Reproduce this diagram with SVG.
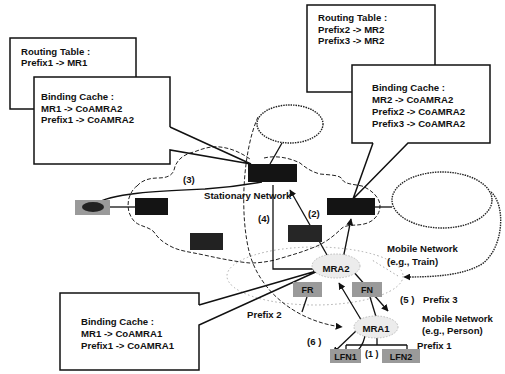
<svg xmlns="http://www.w3.org/2000/svg" width="505" height="374" viewBox="0 0 505 374">
<defs>
<marker id="ah" viewBox="0 0 10 10" refX="9" refY="5" markerWidth="7" markerHeight="7" markerUnits="userSpaceOnUse" orient="auto">
<path d="M0,0 L10,5 L0,10 Z" fill="#111"/>
</marker>
<style>
text{font-family:"Liberation Sans",Arial,sans-serif;font-size:9.6px;font-weight:bold;fill:#111}
.box{fill:#fff;stroke:none}
.edge{fill:none;stroke:#111;stroke-width:1.5}
.ln{fill:none;stroke:#111;stroke-width:1.3}
.dash{fill:none;stroke:#222;stroke-width:1;stroke-dasharray:4 2}
.dot{fill:none;stroke:#222;stroke-width:1.4;stroke-dasharray:1.5 1}
.faint{fill:none;stroke:#aaa;stroke-width:1;stroke-dasharray:1.5 2.5}
.blk{fill:#141414}
.gry{fill:#9a9a9a}
.halo{fill:#ececec;stroke:#bbb;stroke-width:1;stroke-dasharray:1.5 1.5}
.sm{font-size:9px}
</style>
</defs>

<!-- background networks -->
<g id="stationary-network">
<path class="dash" d="M137,186 C142,180 150,178 158,178 C166,178 172,176 174,170 C176,160 184,154 194,152 C204,148 212,146 220,147 C230,148 240,152 250,159 M264,158 C276,155 290,158 300,163 C306,168 312,172 320,174 C330,175 340,175 342,179 C344,184 352,184 362,186 C372,190 380,198 380,206 C380,214 374,222 364,224 C356,226 348,224 342,228 C334,236 324,244 312,248 C300,253 288,256 275,260 C266,262 258,263 250,263 C238,262 222,259 204,255 C190,252 180,251 172,247 C162,242 158,238 154,232 C148,226 140,227 134,221 C128,214 127,206 129,198 C131,192 134,188 137,186"/>
</g>
<g id="train-network">
<ellipse class="faint" cx="315" cy="276" rx="88" ry="29"/>
</g>
<g id="top-network">
<ellipse class="dot" cx="290" cy="124" rx="33" ry="19"/>
</g>
<g id="right-network">
<ellipse class="dot" cx="442" cy="200" rx="50" ry="28"/>
</g>

<!-- callout boxes -->
<g id="rt-left">
<rect x="10" y="38" width="126" height="71" fill="#fff" stroke="#111" stroke-width="1.5"/>
<text x="21" y="55">Routing Table :</text>
<text x="21" y="66">Prefix1 -&gt; MR1</text>
</g>
<g id="bc-left">
<rect class="box" x="34" y="77" width="136" height="87"/>
<path class="edge" d="M170,127 V77 H34 V164 H170 V150 L251,164 L170,127"/>
<text x="41" y="100">Binding Cache :</text>
<text x="41" y="111.5">MR1 -&gt; CoAMRA2</text>
<text x="41" y="123">Prefix1 -&gt; CoAMRA2</text>
</g>
<g id="rt-right">
<rect x="307" y="5" width="128" height="87" fill="#fff" stroke="#111" stroke-width="1.5"/>
<text x="318" y="21">Routing Table :</text>
<text x="318" y="32.5">Prefix2 -&gt; MR2</text>
<text x="318" y="44">Prefix3 -&gt; MR2</text>
</g>
<g id="bc-right">
<rect class="box" x="352" y="65" width="138" height="78"/>
<path class="edge" d="M373,143 H352 V65 H490 V143 H408 L353,199 L373,143"/>
<text x="372" y="91">Binding Cache :</text>
<text x="372" y="103">MR2 -&gt; CoAMRA2</text>
<text x="372" y="115">Prefix2 -&gt; CoAMRA2</text>
<text x="372" y="127">Prefix3 -&gt; CoAMRA2</text>
</g>
<g id="bc-bottom">
<rect class="box" x="60" y="293" width="139" height="77"/>
<path class="edge" d="M199,305 V293 H60 V370 H199 V325 L320,270 L199,305"/>
<text x="81" y="325">Binding Cache :</text>
<text x="81" y="337">MR1 -&gt; CoAMRA1</text>
<text x="81" y="349">Prefix1 -&gt; CoAMRA1</text>
</g>

<!-- connectors -->
<g id="connectors">
<path class="ln" d="M282,143 L270,164"/>
<path class="ln" d="M375,207 H392"/>
<path class="dot" d="M491,192 C506,205 504,248 482,264 C462,276 432,277 404,277" marker-end="url(#ah)"/>
<path class="faint" d="M398,276 L372,260"/>
<path class="dash" d="M258,117 C243,150 239,215 250,255 C262,295 300,322 342,327" marker-end="url(#ah)"/>
<path class="ln" d="M96,204 C110,193 160,191 205,189 C235,187 250,184 262,182"/>
<path class="ln" d="M110,207 H135"/>
<path class="ln" d="M273,185 V269 H319" marker-end="url(#ah)"/>
<path class="ln" d="M331,262 L290,190" marker-end="url(#ah)"/>
<path class="ln" d="M343,259 L351,219" marker-end="url(#ah)"/>
<path class="ln" d="M352,270 L388,311" marker-end="url(#ah)"/>
<path class="ln" d="M370,297 L377,320"/>
<path class="ln" d="M307,297 L302,312"/>
<path class="ln" d="M352,356 C366,345 369,330 360,318 L339,283" marker-end="url(#ah)"/>
<path class="ln" d="M356,331 L333,353" marker-end="url(#ah)"/>
<path class="ln" d="M377,333 V345 M346,345 H407 M346,345 V349 M407,345 V349"/>
</g>

<!-- routers / nodes -->
<g id="router-top"><rect class="blk" x="248" y="164" width="49" height="18"/></g>
<g id="router-right"><rect class="blk" x="327" y="198" width="48" height="17"/></g>
<g id="router-mid"><rect fill="#262626" x="288" y="225" width="34" height="17"/></g>
<g id="router-left"><rect class="blk" x="135" y="198" width="33" height="17"/></g>
<g id="router-low"><rect fill="#222" x="190" y="233" width="33" height="17"/></g>
<g id="host-left">
<rect class="gry" x="75" y="200" width="35" height="15"/>
<ellipse cx="93" cy="207" rx="11" ry="5" fill="#222"/>
</g>
<g id="mra2">
<ellipse class="halo" cx="336" cy="266" rx="24" ry="12"/>
<text x="336" y="272" text-anchor="middle">MRA2</text>
</g>
<g id="mra1">
<ellipse class="halo" cx="376" cy="327" rx="22" ry="11"/>
<text x="376" y="332" text-anchor="middle">MRA1</text>
</g>
<g id="fr"><rect class="gry" x="293" y="282" width="29" height="15"/><text class="sm" x="307.5" y="293" text-anchor="middle">FR</text></g>
<g id="fn"><rect class="gry" x="352" y="282" width="30" height="15"/><text class="sm" x="367" y="293" text-anchor="middle">FN</text></g>
<g id="lfn1"><rect class="gry" x="330" y="349" width="31" height="14"/><text class="sm" x="345.5" y="360" text-anchor="middle">LFN1</text></g>
<g id="lfn2"><rect class="gry" x="382" y="349" width="38" height="14"/><text class="sm" x="401" y="360" text-anchor="middle">LFN2</text></g>

<!-- labels -->
<g id="labels">
<text x="183" y="183">(3)</text>
<text x="204" y="199">Stationary Network</text>
<text x="258" y="222">(4)</text>
<text x="308" y="217">(2)</text>
<text x="387" y="252">Mobile Network</text>
<text x="387" y="265">(e.g., Train)</text>
<text x="400" y="303">(5 )</text>
<text x="423" y="303">Prefix 3</text>
<text x="422" y="322">Mobile Network</text>
<text x="422" y="334">(e.g., Person)</text>
<text x="417" y="349">Prefix 1</text>
<text x="247" y="318">Prefix 2</text>
<text x="307" y="345">(6 )</text>
<text class="sm" x="365" y="357">(1 )</text>
</g>
</svg>
